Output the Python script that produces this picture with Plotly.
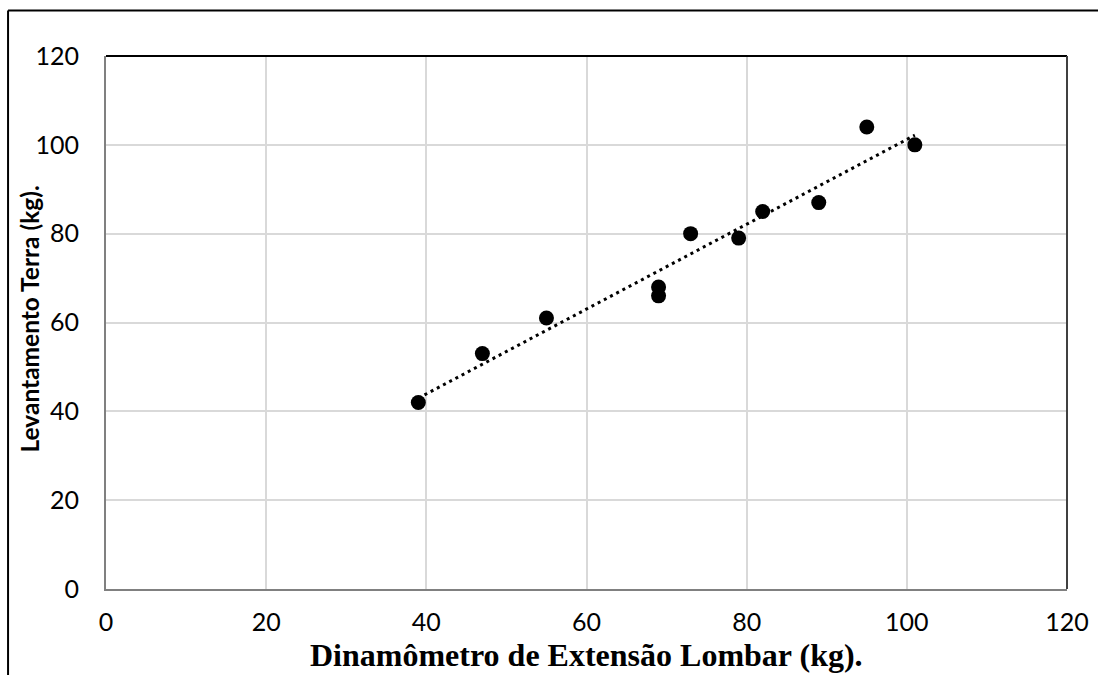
import numpy as np
import plotly.graph_objects as go

# Data
dinamometro = [39, 47, 55, 69, 69, 73, 79, 82, 89, 95, 101]
levantamento = [42, 53, 61, 68, 66, 80, 79, 85, 87, 104, 100]
x_ticks = [0, 20, 40, 60, 80, 100, 120]
y_ticks = [0, 20, 40, 60, 80, 100, 120]
x_title = "Dinamômetro de Extensão Lombar (kg)."
y_title = "Levantamento Terra (kg)."

# Linear trendline (least squares fit of the data)
slope, intercept = np.polyfit(dinamometro, levantamento, 1)
trend_x = [min(dinamometro), max(dinamometro)]
trend_y = [slope * v + intercept for v in trend_x]

W, H = 1098, 675
L, R, T, B = 105.5, 1067, 56, 589
pw, ph = R - L, B - T

def px(xp):
    return (xp - L) / pw

def py(yp):
    return (B - yp) / ph

fig = go.Figure()
fig.add_trace(go.Scatter(
    x=trend_x, y=trend_y, mode="lines",
    line=dict(color="black", width=3, dash="3px,4px"),
    hoverinfo="skip", showlegend=False,
))
fig.add_trace(go.Scatter(
    x=dinamometro, y=levantamento, mode="markers",
    marker=dict(color="black", size=15, line=dict(width=0)),
    showlegend=False,
))

tick_font = dict(family="Lato, 'Open Sans', sans-serif", size=25, color="black")

fig.update_layout(
    width=W, height=H,
    margin=dict(l=L, r=W - R, t=T, b=H - B, pad=0, autoexpand=False),
    paper_bgcolor="white", plot_bgcolor="white",
    xaxis=dict(
        range=[0, 120], tickvals=x_ticks, ticktext=[str(v) for v in x_ticks],
        showgrid=True, gridcolor="#d9d9d9", gridwidth=1.5,
        zeroline=False, showline=True, linecolor="#808080", linewidth=2,
        ticks="outside", ticklen=10, tickcolor="rgba(0,0,0,0)",
        tickfont=tick_font, fixedrange=True, automargin=False,
    ),
    yaxis=dict(
        range=[0, 120], tickvals=y_ticks, ticktext=[str(v) for v in y_ticks],
        showgrid=True, gridcolor="#d9d9d9", gridwidth=1.5,
        zeroline=False, showline=True, linecolor="#808080", linewidth=2,
        ticks="outside", ticklen=20, tickcolor="rgba(0,0,0,0)",
        tickfont=tick_font, fixedrange=True, automargin=False,
    ),
    annotations=[
        dict(text=f"<b>{x_title}</b>", xref="paper", yref="paper",
             x=0.5, y=py(675), xanchor="center", yanchor="bottom",
             showarrow=False,
             font=dict(family="'Liberation Serif', 'Times New Roman', serif",
                       size=32, color="black")),
        dict(text=f"<b>{y_title}</b>", xref="paper", yref="paper",
             x=px(28), y=py(319), xanchor="center", yanchor="middle",
             textangle=-90, showarrow=False,
             font=dict(family="Lato, 'Open Sans', sans-serif",
                       size=24.5, color="black")),
    ],
    shapes=[
        # plot area top and right borders
        dict(type="line", xref="paper", yref="paper", x0=0, x1=1, y0=1, y1=1,
             line=dict(color="black", width=2)),
        dict(type="line", xref="paper", yref="paper", x0=1, x1=1, y0=0, y1=1,
             line=dict(color="#404040", width=2)),
        # outer chart frame
        dict(type="line", xref="paper", yref="paper",
             x0=px(7.5), x1=px(W + 5), y0=py(10.5), y1=py(10.5),
             line=dict(color="black", width=2)),
        dict(type="line", xref="paper", yref="paper",
             x0=px(7.5), x1=px(7.5), y0=py(10.5), y1=py(H + 5),
             line=dict(color="black", width=2)),
    ],
)

fig.write_html("out.html")
